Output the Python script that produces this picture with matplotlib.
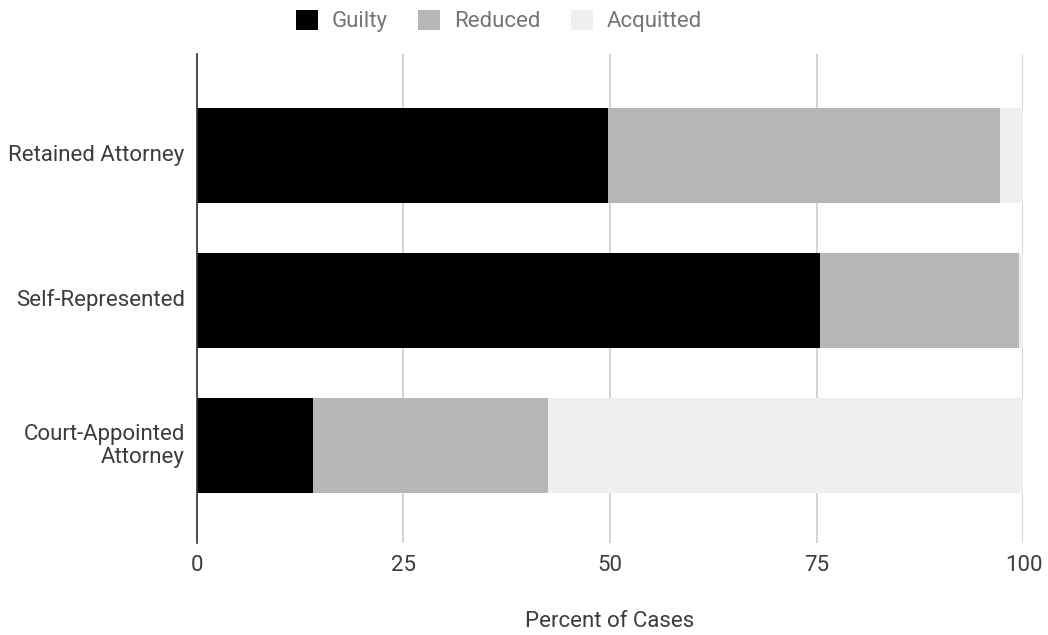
import numpy as np
import matplotlib.pyplot as plt
from matplotlib.patches import Patch
from matplotlib.transforms import ScaledTranslation

plt.rcParams['font.family'] = ['Roboto', 'DejaVu Sans']

# Outcome shares (percent of cases) by type of representation
categories = ['Retained Attorney', 'Self-Represented', 'Court-Appointed\nAttorney']
guilty = [49.7, 75.4, 14.1]
reduced = [47.5, 24.1, 28.4]
acquitted = [2.8, 0.5, 57.5]

series = ['Guilty', 'Reduced', 'Acquitted']
colors = ['#000000', '#b7b7b7', '#efefef']
ticks = [0, 25, 50, 75, 100]

fig = plt.figure(figsize=(10.48, 6.35), dpi=100)
ax = fig.add_axes([0.1875, 0.145, 0.7891, 0.770])

y = np.arange(len(categories))
left = np.zeros(len(categories))
for vals, col, name in zip([guilty, reduced, acquitted], colors, series):
    ax.barh(y, vals, left=left, height=0.655, color=col, label=name, zorder=2)
    left += np.array(vals)

ax.set_ylim(2.676, -0.704)
ax.set_xlim(0, 100)
ax.set_xticks(ticks)
ax.set_xticklabels([str(t) for t in ticks])
ax.set_yticks(y)
ax.set_yticklabels(categories, linespacing=1.13)

ax.tick_params(axis='both', length=0, labelsize=16, labelcolor='#3c3c3c')
ax.tick_params(axis='x', pad=8.5)
ax.tick_params(axis='y', pad=8.5)
# nudge category labels up a little
shift = ScaledTranslation(0, 0.03, fig.dpi_scale_trans)
for lbl in ax.get_yticklabels():
    lbl.set_transform(lbl.get_transform() + shift)

ax.grid(axis='x', color='#cccccc', linewidth=1.2, zorder=0)
for s in ['top', 'right', 'bottom']:
    ax.spines[s].set_visible(False)
ax.spines['left'].set_color('#333333')
ax.spines['left'].set_linewidth(1.2)
ax.spines['left'].set_zorder(3)

ax.set_xlabel('Percent of Cases', fontsize=16, color='#3c3c3c', labelpad=25.5)

handles = [Patch(facecolor=c, edgecolor='none') for c in colors]
fig.legend(handles, series, loc='center', bbox_to_anchor=(0.476, 0.967),
           ncol=3, frameon=False, fontsize=16, labelcolor='#757575',
           handlelength=1.0, handleheight=1.0, columnspacing=1.35, handletextpad=0.63,
           borderpad=0, borderaxespad=0)

fig.savefig('out.png', dpi=100, facecolor='white')
